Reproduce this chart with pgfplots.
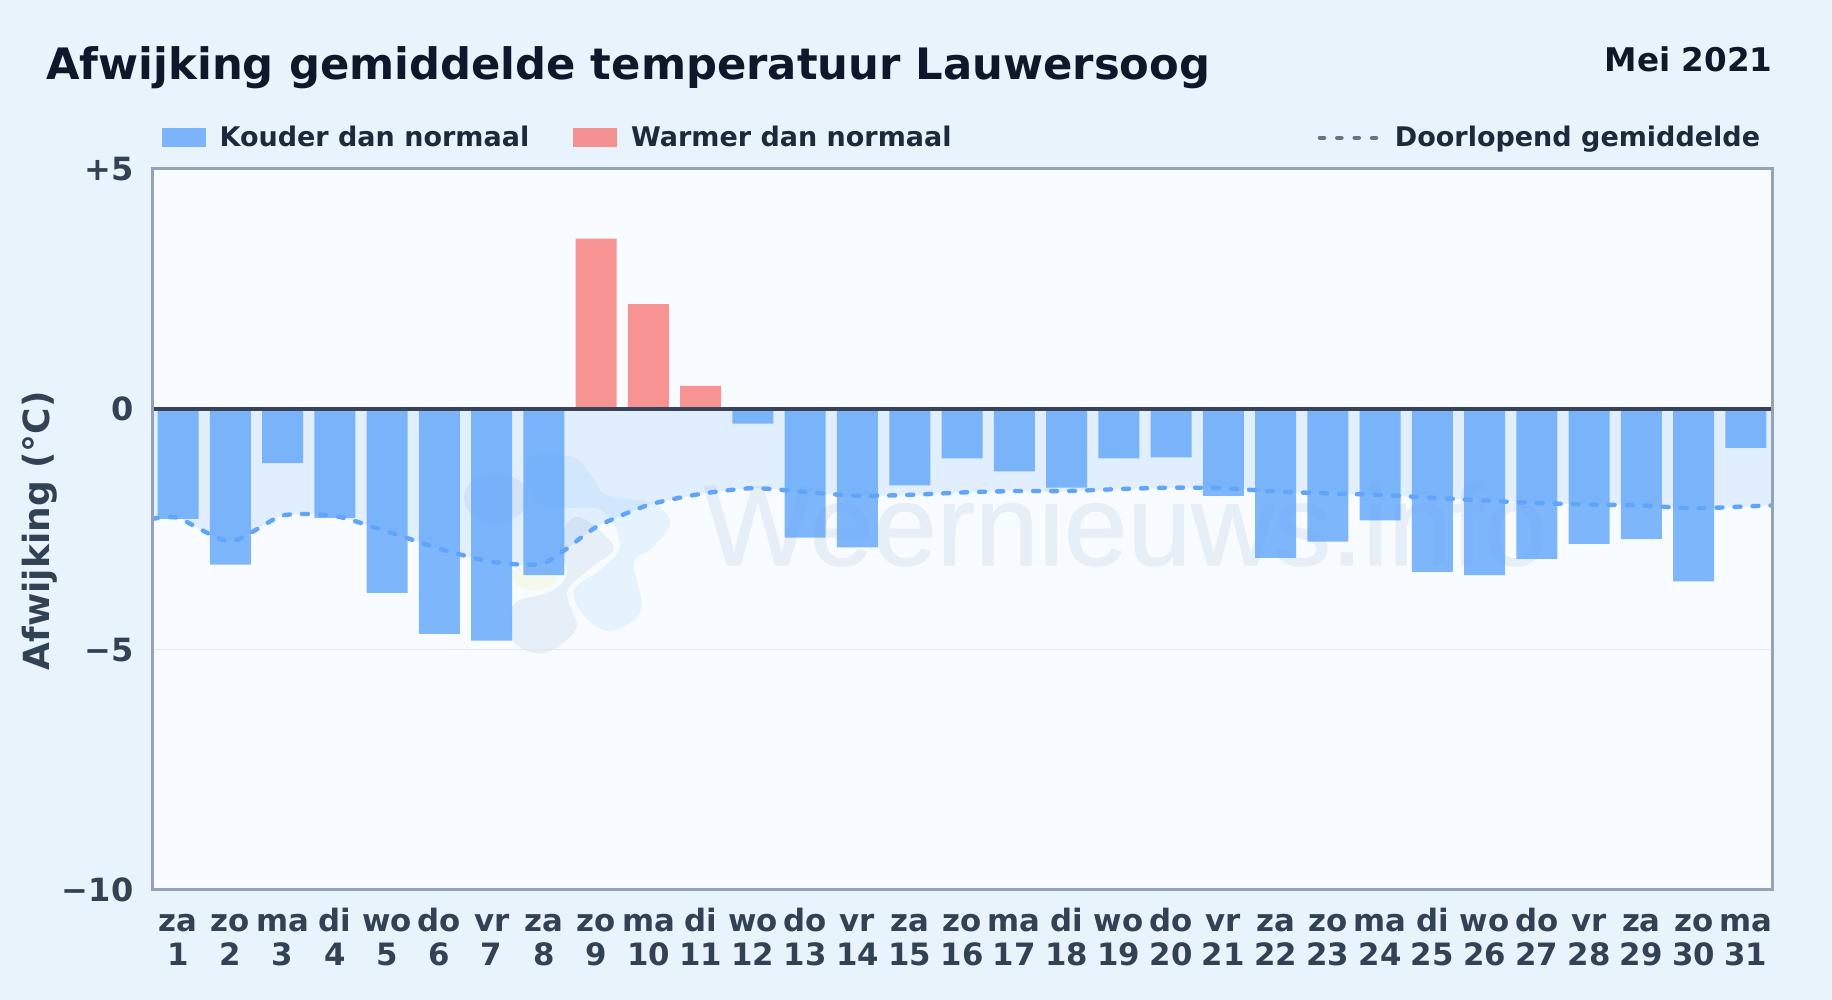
\documentclass[border=0pt]{standalone}
\usepackage{fontspec}
\setmainfont{DejaVu Sans}
\newfontfamily\markfont[FakeBold=1.0]{Liberation Sans}
\usepackage{pgfplots}
\pgfplotsset{compat=1.18}

\definecolor{pagebg}{HTML}{E8F3FC}
\definecolor{plotbg}{HTML}{F8FBFF}
\definecolor{coldbar}{HTML}{60A5FA}
\definecolor{warmbar}{HTML}{F87171}
\definecolor{bordercol}{HTML}{94A3B8}
\definecolor{zeroline}{HTML}{374357}
\definecolor{gridline}{HTML}{E2E8F0}
\definecolor{titletext}{HTML}{0F172A}
\definecolor{legendtext}{HTML}{1E293B}
\definecolor{ticktext}{HTML}{334155}
\definecolor{legenddots}{HTML}{6B7280}
\definecolor{wmgrey}{HTML}{E6EEF7}
\definecolor{wmblue}{HTML}{E4F3FE}
\definecolor{wmyellow}{HTML}{F4F9EC}

\begin{document}
\begin{tikzpicture}
\useasboundingbox (0pt,0pt) rectangle (916pt,500pt);
\fill[pagebg] (0pt,0pt) rectangle (916pt,500pt);
\fill[plotbg] (76pt,55pt) rectangle (886pt,415.5pt);
\node[anchor=base west,font=\bfseries\fontsize{21.65}{25}\selectfont,text=titletext,inner sep=0pt] at (23pt,460.4pt) {Afwijking gemiddelde temperatuur Lauwersoog};
\node[anchor=base east,font=\bfseries\fontsize{16.3}{18}\selectfont,text=titletext,inner sep=0pt] at (886.5pt,464pt) {Mei 2021};
% watermark logo, in pixels of the 1832x1000 page
\begin{scope}[x=0.5pt,y=-0.5pt,yshift=500pt]
\fill[wmgrey] (496,498) ellipse [x radius=32,y radius=25];
\fill[wmblue] plot[smooth cycle,tension=0.6] coordinates {(527,460) (572,457) (592,477) (607,495) (652,503) (670,523) (652,548) (634,563) (641,610) (612,631) (585,617) (574,590) (600,570) (620,545) (600,510) (540,505)};
\fill[wmyellow] (535,577) ellipse [x radius=22,y radius=13];
\filldraw[fill=wmgrey,draw=plotbg,line width=2pt] plot[smooth cycle,tension=0.6] coordinates {(585,517) (616,547) (594,568) (572,587) (570,600) (578,630) (545,655) (512,643) (512,603) (549,590) (565,573) (558,547) (567,520)};
\end{scope}
\begin{axis}[
at={(76pt,55pt)},
anchor=south west,
scale only axis,
width=810pt,
height=360.5pt,
xmin=0.5,
xmax=31.5,
ymin=-10,
ymax=5,
axis line style={draw=none},
tick style={draw=none},
ymajorgrids=true,
grid style={draw=gridline,line width=0.8pt},
ytick={-10,-5,0,5},
yticklabels={−10,−5,0,+5},
xtick={1,...,31},
xticklabels={{za\\1},{zo\\2},{ma\\3},{di\\4},{wo\\5},{do\\6},{vr\\7},{za\\8},{zo\\9},{ma\\10},{di\\11},{wo\\12},{do\\13},{vr\\14},{za\\15},{zo\\16},{ma\\17},{di\\18},{wo\\19},{do\\20},{vr\\21},{za\\22},{zo\\23},{ma\\24},{di\\25},{wo\\26},{do\\27},{vr\\28},{za\\29},{zo\\30},{ma\\31}},
x tick label style={font=\bfseries\fontsize{15.4}{17}\selectfont,text=ticktext,align=center,inner sep=0pt,text height=37.5pt,text depth=0pt},
y tick label style={font=\bfseries\fontsize{16}{18}\selectfont,text=ticktext,xshift=-5.8pt},
ylabel={Afwijking (°C)},
y label style={font=\bfseries\fontsize{18}{20}\selectfont,text=ticktext,at={(axis description cs:0,0.5)},yshift=43.8pt,xshift=-0.6pt},
legend columns=3,
legend cell align=left,
legend style={at={(0,1)},anchor=south west,xshift=4.6pt,yshift=7.5pt,draw=none,fill=none,font=\bfseries\fontsize{13.5}{15}\selectfont,text=legendtext,inner sep=0pt,
/tikz/column 1/.style={column sep=5pt},
/tikz/column 2/.style={column sep=19.9pt},
/tikz/column 3/.style={column sep=5pt},
/tikz/column 4/.style={column sep=181pt},
/tikz/column 5/.style={column sep=6.35pt}},
]
\node[anchor=base west,inner sep=0pt,text=wmgrey,font=\markfont\fontsize{57.2}{60}\selectfont] at (axis cs:11.05,-3.24) {Weernieuws.info};
% area down to the running mean
\addplot[fill=coldbar,fill opacity=0.15,draw=none,forget plot,smooth,tension=0.4] coordinates {
(0.5,-2.28) (1,-2.26) (2,-2.75) (3,-2.21) (4,-2.22) (5,-2.54) (6,-2.9) (7,-3.17) (8,-3.2) (9,-2.45) (10,-1.99)
(11,-1.76) (12,-1.64) (13,-1.72) (14,-1.8) (15,-1.78) (16,-1.73) (17,-1.7) (18,-1.7) (19,-1.66) (20,-1.63)
(21,-1.64) (22,-1.71) (23,-1.75) (24,-1.78) (25,-1.84) (26,-1.9) (27,-1.95) (28,-1.98) (29,-2.0) (30,-2.06) (31,-2.02) (31.5,-2.0)
} \closedcycle;
\addplot[ybar,bar width=20.5pt,bar shift=0pt,fill=coldbar,fill opacity=0.8,draw=none,
legend image code/.code={\fill[coldbar,opacity=0.8] (0pt,-4.8pt) rectangle (22pt,4.8pt);}] coordinates {
(1,-2.28) (2,-3.23) (3,-1.12) (4,-2.26) (5,-3.82) (6,-4.67) (7,-4.81) (8,-3.45)
(12,-0.3) (13,-2.67) (14,-2.87) (15,-1.58) (16,-1.02) (17,-1.29) (18,-1.63) (19,-1.02) (20,-1.0)
(21,-1.8) (22,-3.09) (23,-2.75) (24,-2.31) (25,-3.38) (26,-3.45) (27,-3.11) (28,-2.8) (29,-2.7) (30,-3.58) (31,-0.8)
};
\addlegendentry{Kouder dan normaal}
\addplot[ybar,bar width=20.5pt,bar shift=0pt,fill=warmbar,fill opacity=0.75,draw=none,
legend image code/.code={\fill[warmbar,opacity=0.75] (0pt,-4.8pt) rectangle (22pt,4.8pt);}] coordinates {
(9,3.55) (10,2.19) (11,0.49)
};
\addlegendentry{Warmer dan normaal}
\addplot[coldbar,line width=2.2pt,line cap=round,dash pattern=on 3pt off 6pt,smooth,tension=0.4,no markers,
legend image code/.code={\draw[legenddots,line width=2.3pt,dash pattern=on 2pt off 6.7pt] (0pt,0pt) -- (28pt,0pt);}] coordinates {
(0.5,-2.28) (1,-2.26) (2,-2.75) (3,-2.21) (4,-2.22) (5,-2.54) (6,-2.9) (7,-3.17) (8,-3.2) (9,-2.45) (10,-1.99)
(11,-1.76) (12,-1.64) (13,-1.72) (14,-1.8) (15,-1.78) (16,-1.73) (17,-1.7) (18,-1.7) (19,-1.66) (20,-1.63)
(21,-1.64) (22,-1.71) (23,-1.75) (24,-1.78) (25,-1.84) (26,-1.9) (27,-1.95) (28,-1.98) (29,-2.0) (30,-2.06) (31,-2.02) (31.5,-2.0)
};
\addlegendentry{Doorlopend gemiddelde}
\addplot[zeroline,line width=1.9pt,forget plot] coordinates {(0.5,0) (31.5,0)};
\end{axis}
\draw[draw=bordercol,line width=1.5pt] (76pt,55pt) rectangle (886pt,415.5pt);
\end{tikzpicture}
\end{document}
